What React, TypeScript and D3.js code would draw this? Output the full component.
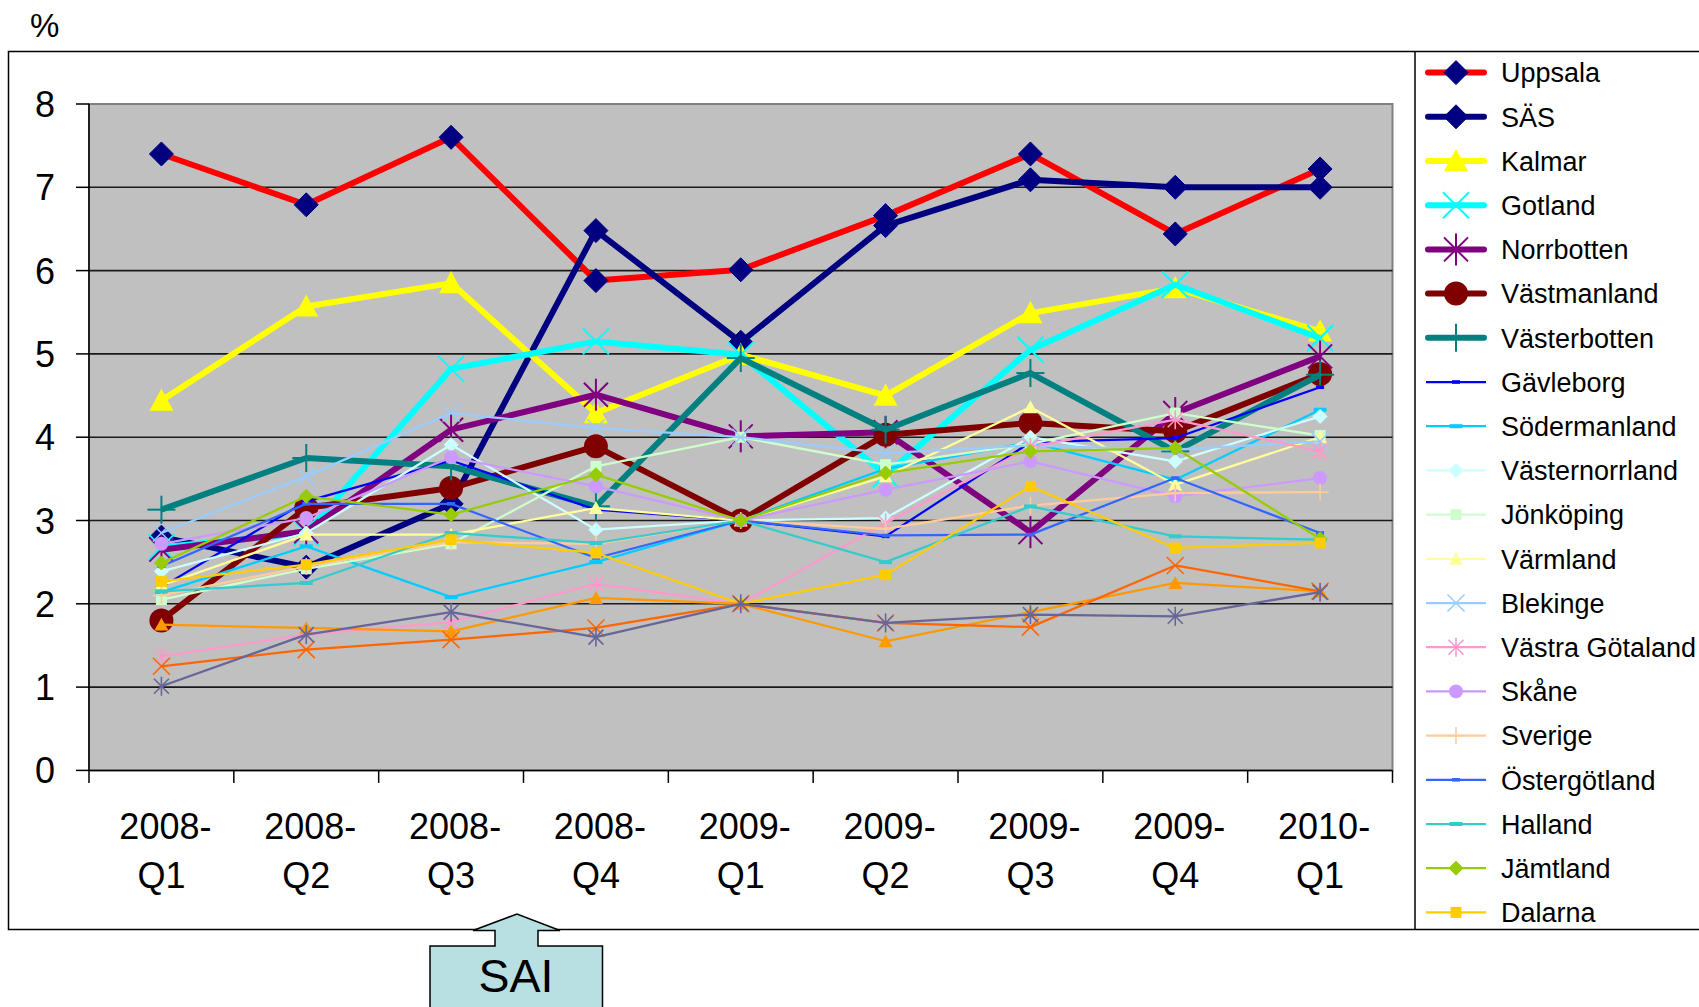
import * as d3 from "d3";

const categories = ["2008-Q1", "2008-Q2", "2008-Q3", "2008-Q4", "2009-Q1", "2009-Q2", "2009-Q3", "2009-Q4", "2010-Q1"];
const yTicks = [0, 1, 2, 3, 4, 5, 6, 7, 8];

const uppsala = [7.4, 6.79, 7.6, 5.88, 6.01, 6.66, 7.4, 6.44, 7.22];
const sas = [2.8, 2.44, 3.2, 6.48, 5.14, 6.54, 7.09, 7.0, 7.0];
const kalmar = [4.44, 5.57, 5.85, 4.29, 4.99, 4.5, 5.49, 5.79, 5.27];
const gotland = [2.68, 2.85, 4.82, 5.15, 4.99, 3.55, 5.05, 5.83, 5.19];
const norrbotten = [2.65, 2.87, 4.09, 4.51, 4.01, 4.06, 2.86, 4.29, 4.97];
const vastmanland = [1.8, 3.15, 3.39, 3.89, 3.0, 4.03, 4.17, 4.07, 4.76];
const vasterbotten = [3.13, 3.75, 3.65, 3.17, 4.95, 4.09, 4.77, 3.83, 4.75];
const gavleborg = [2.2, 3.23, 3.72, 3.13, 3.0, 2.81, 3.94, 3.99, 4.6];
const sodermanland = [2.14, 2.69, 2.08, 2.5, 3.0, 3.62, 3.94, 3.49, 4.33];
const vasternorrland = [2.39, 2.85, 3.91, 2.89, 3.0, 3.03, 4.0, 3.71, 4.25];
const jonkoping = [2.05, 2.42, 2.72, 3.65, 4.0, 3.67, 3.92, 4.29, 4.02];
const varmland = [2.22, 2.83, 2.83, 3.15, 3.0, 3.53, 4.36, 3.43, 4.0];
const blekinge = [2.85, 3.53, 4.29, 4.11, 4.0, 3.81, 3.9, 3.85, 3.95];
const vastraGotaland = [1.37, 1.63, 1.78, 2.24, 2.0, 2.97, 3.88, 4.21, 3.83];
const skane = [2.72, 3.03, 3.76, 3.41, 3.0, 3.37, 3.71, 3.29, 3.51];
const sverige = [2.1, 2.45, 2.74, 2.72, 3.0, 2.9, 3.18, 3.33, 3.34];
const ostergotland = [2.45, 3.2, 3.2, 2.55, 3.0, 2.82, 2.83, 3.51, 2.85];
const halland = [2.15, 2.25, 2.85, 2.73, 3.0, 2.5, 3.17, 2.81, 2.77];
const jamtland = [2.49, 3.29, 3.07, 3.55, 3.0, 3.57, 3.83, 3.87, 2.78];
const dalarna = [2.27, 2.47, 2.77, 2.61, 2.0, 2.35, 3.41, 2.67, 2.73];
// the last three sit below the cut-off edge of the legend
const kronoberg = [1.75, 1.71, 1.67, 2.07, 2.0, 1.55, 1.9, 2.25, 2.15];
const orebro = [1.25, 1.45, 1.57, 1.71, 2.0, 1.77, 1.72, 2.46, 2.15];
const stockholm = [1.01, 1.63, 1.9, 1.6, 2.0, 1.77, 1.87, 1.85, 2.14];

type Marker = "diamond" | "square" | "triangle" | "x" | "star" | "circle" | "plus" | "dash" | "longdash";

interface Series {
  name: string;
  values: number[];
  color: string;
  markerColor: string;
  marker: Marker;
  thick: boolean;
}

const series: Series[] = [
  { name: "Uppsala", values: uppsala, color: "#FF0000", markerColor: "#000080", marker: "diamond", thick: true },
  { name: "SÄS", values: sas, color: "#000080", markerColor: "#000080", marker: "diamond", thick: true },
  { name: "Kalmar", values: kalmar, color: "#FFFF00", markerColor: "#FFFF00", marker: "triangle", thick: true },
  { name: "Gotland", values: gotland, color: "#00FFFF", markerColor: "#00FFFF", marker: "x", thick: true },
  { name: "Norrbotten", values: norrbotten, color: "#800080", markerColor: "#800080", marker: "star", thick: true },
  { name: "Västmanland", values: vastmanland, color: "#800000", markerColor: "#800000", marker: "circle", thick: true },
  { name: "Västerbotten", values: vasterbotten, color: "#008080", markerColor: "#008080", marker: "plus", thick: true },
  { name: "Gävleborg", values: gavleborg, color: "#0000FF", markerColor: "#0000FF", marker: "dash", thick: false },
  { name: "Södermanland", values: sodermanland, color: "#00CCFF", markerColor: "#00CCFF", marker: "longdash", thick: false },
  { name: "Västernorrland", values: vasternorrland, color: "#CCFFFF", markerColor: "#CCFFFF", marker: "diamond", thick: false },
  { name: "Jönköping", values: jonkoping, color: "#CCFFCC", markerColor: "#CCFFCC", marker: "square", thick: false },
  { name: "Värmland", values: varmland, color: "#FFFF99", markerColor: "#FFFF99", marker: "triangle", thick: false },
  { name: "Blekinge", values: blekinge, color: "#99CCFF", markerColor: "#99CCFF", marker: "x", thick: false },
  { name: "Västra Götaland", values: vastraGotaland, color: "#FF99CC", markerColor: "#FF99CC", marker: "star", thick: false },
  { name: "Skåne", values: skane, color: "#CC99FF", markerColor: "#CC99FF", marker: "circle", thick: false },
  { name: "Sverige", values: sverige, color: "#FFCC99", markerColor: "#FFCC99", marker: "plus", thick: false },
  { name: "Östergötland", values: ostergotland, color: "#3366FF", markerColor: "#3366FF", marker: "dash", thick: false },
  { name: "Halland", values: halland, color: "#33CCCC", markerColor: "#33CCCC", marker: "longdash", thick: false },
  { name: "Jämtland", values: jamtland, color: "#99CC00", markerColor: "#99CC00", marker: "diamond", thick: false },
  { name: "Dalarna", values: dalarna, color: "#FFCC00", markerColor: "#FFCC00", marker: "square", thick: false },
  { name: "Kronoberg", values: kronoberg, color: "#FF9900", markerColor: "#FF9900", marker: "triangle", thick: false },
  { name: "Örebro", values: orebro, color: "#FF6600", markerColor: "#FF6600", marker: "x", thick: false },
  { name: "Stockholm", values: stockholm, color: "#666699", markerColor: "#666699", marker: "star", thick: false },
];

const W = 1699;
const H = 1007;
const FONT = "'Liberation Sans', Arial, sans-serif";
const plot = { left: 89, right: 1392.5, top: 104, bottom: 770.4 };
const frame = { left: 8.5, top: 51.5, bottom: 929.5 };
const legendX = 1415;
const legendRow = (i: number) => 72.6 + i * 44.2;

function MarkerShape({ type, color, thick }: { type: Marker; color: string; thick: boolean }) {
  const s = thick ? 24 : 14;
  const h = s / 2;
  const sw = thick ? 2 : 1.6;
  switch (type) {
    case "diamond":
      return <polygon points={`0,${-h} ${h},0 0,${h} ${-h},0`} fill={color} stroke={color} strokeWidth={1} />;
    case "square": {
      const q = thick ? 10 : 5.5;
      return <rect x={-q} y={-q} width={q * 2} height={q * 2} fill={color} />;
    }
    case "triangle":
      return <polygon points={`0,${-h} ${h},${h * 0.85} ${-h},${h * 0.85}`} fill={color} />;
    case "circle":
      return <circle r={h} fill={color} />;
    case "x": {
      const a = thick ? 13 : 8.5;
      return (
        <g stroke={color} strokeWidth={sw}>
          <line x1={-a} y1={-a} x2={a} y2={a} />
          <line x1={-a} y1={a} x2={a} y2={-a} />
        </g>
      );
    }
    case "star": {
      const a = thick ? 12 : 7.5;
      const v = thick ? 16 : 9.5;
      return (
        <g stroke={color} strokeWidth={sw}>
          <line x1={-a} y1={-a} x2={a} y2={a} />
          <line x1={-a} y1={a} x2={a} y2={-a} />
          <line x1={0} y1={-v} x2={0} y2={v} />
        </g>
      );
    }
    case "plus": {
      const a = thick ? 14 : 8.5;
      return (
        <g stroke={color} strokeWidth={sw}>
          <line x1={-a} y1={0} x2={a} y2={0} />
          <line x1={0} y1={-a} x2={0} y2={a} />
        </g>
      );
    }
    case "dash":
      return <rect x={-4} y={-1.8} width={8} height={3.6} fill={color} />;
    case "longdash":
      return <rect x={-6.5} y={-2} width={13} height={4} fill={color} />;
  }
}

export default function App() {
  const x = d3.scaleBand<string>().domain(categories).range([plot.left, plot.right]).padding(0);
  const y = d3.scaleLinear().domain([0, 8]).range([plot.bottom, plot.top]);
  const cx = (c: string) => (x(c) as number) + x.bandwidth() / 2;

  const line = d3
    .line<number>()
    .x((_d, i) => cx(categories[i]))
    .y((d) => y(d));

  const boundaries = categories.map((c) => x(c) as number).concat([plot.right]);
  // the legend box is cut by the frame, so only the rows that fit are shown
  const legendItems = series.filter((_s, i) => legendRow(i) + 12 < frame.bottom);

  return (
    <svg
      width={W}
      height={H}
      style={{ position: "absolute", left: 0, top: 0, background: "#fff" }}
      fontFamily={FONT}
    >
      <rect x={0} y={0} width={W} height={H} fill="#fff" />

      <text x={30} y={37} fontSize={33} fill="#000">%</text>

      {/* outer frame */}
      <rect
        x={frame.left}
        y={frame.top}
        width={W + 10 - frame.left}
        height={frame.bottom - frame.top}
        fill="none"
        stroke="#000"
        strokeWidth={1.5}
      />

      {/* plot area */}
      <rect
        x={plot.left}
        y={plot.top}
        width={plot.right - plot.left}
        height={plot.bottom - plot.top}
        fill="#C0C0C0"
        stroke="#808080"
        strokeWidth={2}
      />
      {yTicks.slice(1, -1).map((t) => (
        <line key={t} x1={plot.left} x2={plot.right} y1={y(t)} y2={y(t)} stroke="#1a1a1a" strokeWidth={1.6} />
      ))}
      <line x1={plot.left} x2={plot.left} y1={plot.top} y2={plot.bottom} stroke="#000" strokeWidth={1.5} />
      <line x1={plot.left} x2={plot.right} y1={plot.bottom} y2={plot.bottom} stroke="#000" strokeWidth={1.5} />
      {yTicks.map((t) => (
        <g key={t}>
          <line x1={76} x2={plot.left} y1={y(t)} y2={y(t)} stroke="#000" strokeWidth={1.5} />
          <text x={55} y={y(t) + 13} textAnchor="end" fontSize={36} fill="#000">{t}</text>
        </g>
      ))}
      {boundaries.map((b, i) => (
        <line key={i} x1={b} x2={b} y1={plot.bottom} y2={plot.bottom + 12.5} stroke="#000" strokeWidth={1.5} />
      ))}
      {categories.map((c) => {
        const [yr, q] = c.split("-");
        return (
          <g key={c} fontSize={36} fill="#000" textAnchor="middle">
            <text x={cx(c) + 4} y={839}>{yr}-</text>
            <text x={cx(c)} y={888}>{q}</text>
          </g>
        );
      })}

      {/* series */}
      {series.map((s) => (
        <g key={s.name}>
          <path
            d={line(s.values) ?? ""}
            fill="none"
            stroke={s.color}
            strokeWidth={s.thick ? 6 : 2.25}
            strokeLinejoin="round"
          />
          {s.values.map((v, i) => (
            <g key={i} transform={`translate(${cx(categories[i])},${y(v)})`}>
              <MarkerShape type={s.marker} color={s.markerColor} thick={s.thick} />
            </g>
          ))}
        </g>
      ))}

      {/* legend */}
      <line x1={legendX} x2={legendX} y1={frame.top} y2={frame.bottom} stroke="#000" strokeWidth={1.5} />
      {legendItems.map((s, i) => {
        const ly = legendRow(i);
        return (
          <g key={s.name}>
            <line
              x1={s.thick ? 1428 : 1426}
              x2={s.thick ? 1484 : 1486}
              y1={ly}
              y2={ly}
              stroke={s.color}
              strokeWidth={s.thick ? 6 : 2.25}
              strokeLinecap={s.thick ? "round" : "butt"}
            />
            <g transform={`translate(1456,${ly})`}>
              <MarkerShape type={s.marker} color={s.markerColor} thick={s.thick} />
            </g>
            <text x={1501} y={ly + 9.7} fontSize={27} fill="#000">{s.name}</text>
          </g>
        );
      })}

      {/* SAI callout */}
      <polygon
        points="430,1012 430,946 495,946 495,930.5 473,930.5 517,914 560,930.5 538,930.5 538,946 602.5,946 602.5,1012"
        fill="#B8DFE1"
        stroke="#000"
        strokeWidth={1.5}
      />
      <text x={516} y={991.5} textAnchor="middle" fontSize={46.5} fill="#000">SAI</text>
    </svg>
  );
}
